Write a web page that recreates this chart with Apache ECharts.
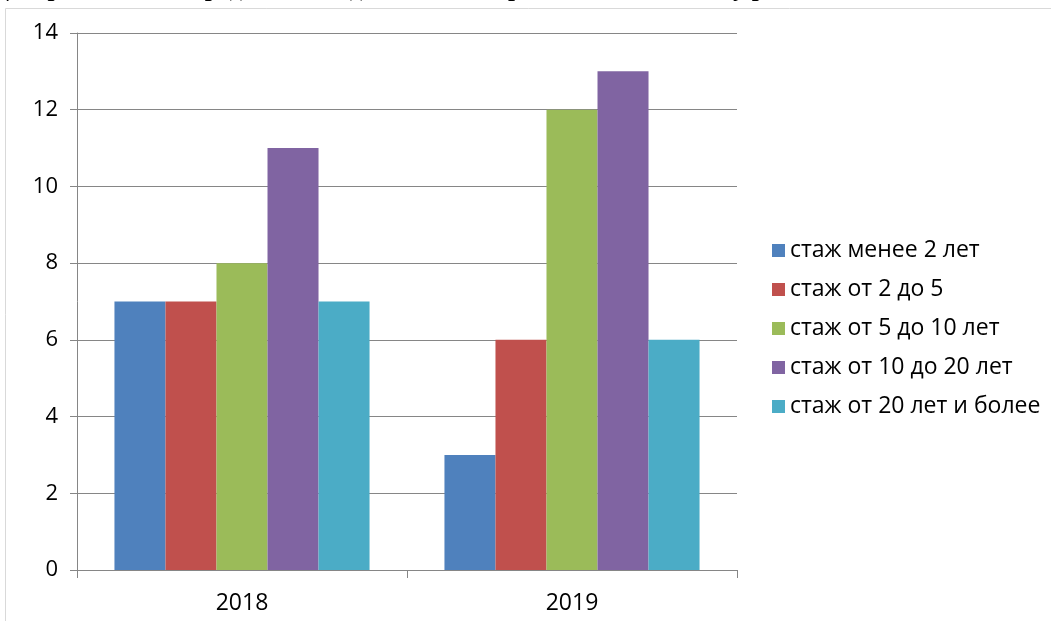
<!DOCTYPE html>
<html><head><meta charset="utf-8">
<script src="https://cdn.jsdelivr.net/npm/echarts@6/dist/echarts.min.js"></script>
<style>html,body{margin:0;padding:0;background:#fff}#c{width:1051px;height:621px}</style>
</head><body><div id="c"></div>
<script>
const categories = ['2018', '2019'];
const seriesNames = ['стаж менее 2 лет', 'стаж от 2 до 5', 'стаж от 5 до 10 лет', 'стаж от 10 до 20 лет', 'стаж от 20 лет и более'];
const lessThan2 = [7, 3];
const from2to5 = [7, 6];
const from5to10 = [8, 12];
const from10to20 = [11, 13];
const over20 = [7, 6];
const colors = ['#4F81BD', '#C0504D', '#9BBB59', '#8064A2', '#4BACC6'];
const values = [lessThan2, from2to5, from5to10, from10to20, over20];

const chart = echarts.init(document.getElementById('c'));
chart.setOption({
  animation: false,
  textStyle: { fontFamily: 'Open Sans, Liberation Sans, sans-serif' },
  graphic: [
    { type: 'text', left: -8, top: -23, z: 1, style: { text: 'Диаграмма 1. Распределение педагогических работников по стажу работы', font: 'bold 25px "Liberation Serif", serif', fill: '#000' } },
    { type: 'rect', shape: { x: 0, y: 7, width: 1051, height: 12 }, style: { fill: '#fff' }, z: 2 },
    { type: 'line', shape: { x1: 5.5, y1: 8.5, x2: 1051, y2: 8.5 }, style: { stroke: '#d9d9d9', lineWidth: 1 }, z: 3 },
    { type: 'line', shape: { x1: 5.5, y1: 8.5, x2: 5.5, y2: 621 }, style: { stroke: '#d9d9d9', lineWidth: 1 }, z: 3 }
  ],
  grid: { left: 77, top: 33, right: 314, bottom: 51, containLabel: false },
  legend: {
    orient: 'vertical', left: 767, top: 234,
    itemWidth: 13, itemHeight: 13, itemGap: 16,
    icon: 'rect',
    textStyle: { fontSize: 23, lineHeight: 22, color: '#000', fontFamily: 'Open Sans, sans-serif' },
    data: seriesNames
  },
  xAxis: {
    type: 'category', data: categories,
    axisLine: { lineStyle: { color: '#868686', width: 1 } },
    axisTick: { show: true, length: 8, lineStyle: { color: '#868686' } },
    axisLabel: { fontSize: 23, color: '#000', margin: 22 }
  },
  yAxis: {
    type: 'value', min: 0, max: 14, interval: 2,
    axisLine: { show: true, lineStyle: { color: '#868686', width: 1 } },
    axisTick: { show: true, length: 7, lineStyle: { color: '#868686' } },
    axisLabel: { fontSize: 22, color: '#000', margin: 19 },
    splitLine: { lineStyle: { color: '#868686', width: 1 } }
  },
  series: seriesNames.map((n, i) => ({
    name: n, type: 'bar', data: values[i],
    itemStyle: { color: colors[i] },
    barGap: '0%', barCategoryGap: '22.7%'
  }))
});
</script></body></html>
